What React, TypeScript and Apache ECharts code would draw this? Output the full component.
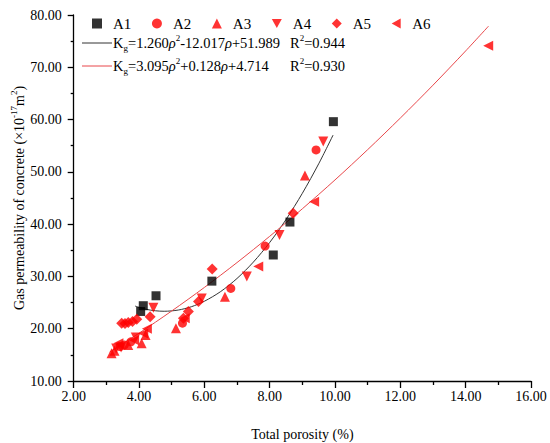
import React, { useEffect, useRef } from "react";
import * as echarts from "echarts";

const SERIES_NAMES = ["A1", "A2", "A3", "A4", "A5", "A6"];

const A1 = [[4.05, 23.3], [4.13, 24.4], [4.52, 26.3], [6.23, 29.1], [8.11, 34.1], [8.62, 40.4], [9.95, 59.6]];
const A2 = [[3.42, 16.6], [3.55, 16.9], [3.75, 17.5], [5.33, 21.05], [6.81, 27.7], [7.86, 35.8], [9.42, 54.2]];
const A3 = [[3.16, 15.3], [3.25, 15.8], [3.67, 16.9], [4.08, 17.2], [4.2, 18.8], [5.13, 20.1], [6.63, 26.1], [9.08, 49.3]];
const A4 = [[3.3, 16.2], [3.45, 16.4], [3.9, 18.3], [4.44, 24.0], [5.92, 25.8], [7.3, 30.0], [8.3, 37.9], [9.64, 55.8]];
const A5 = [[3.47, 21.05], [3.57, 21.0], [3.67, 21.2], [3.8, 21.4], [3.93, 21.8], [4.34, 22.3], [5.36, 22.0], [5.51, 23.3], [5.82, 25.2], [6.24, 31.4], [8.72, 42.1]];
const A6 = [[3.37, 17.2], [3.85, 17.8], [4.13, 19.1], [4.24, 20.0], [5.4, 22.0], [7.65, 31.9], [9.36, 44.3], [14.69, 74.1]];

const FIT_BLACK = [[3.88, 24.33], [4.2, 23.74], [4.5, 23.43], [4.77, 23.34], [5.2, 23.57], [5.6, 24.2], [6, 25.25], [6.5, 27.11], [7, 29.61], [7.5, 32.74], [8, 36.49], [8.5, 40.88], [9, 45.9], [9.5, 51.54], [9.94, 57.03]];
const FIT_RED = [[3.1, 15.54], [4, 19.14], [5, 23.39], [6, 27.89], [7, 32.65], [8, 37.67], [9, 42.94], [10, 48.46], [11, 54.25], [12, 60.29], [13, 66.58], [14, 73.13], [14.7, 77.87]];

const FONT = "Liberation Serif";
const RED = "#ff0000";
const TRI_DOWN = "path://M0,0L10,0L5,9Z";
const TRI_LEFT = "path://M9,0L9,10L0,5Z";

const rich = (size: number) => ({
  n: { fontFamily: FONT, fontSize: size, lineHeight: 19, color: "#000", verticalAlign: "middle" },
  i: { fontFamily: FONT, fontSize: size, fontStyle: "italic", lineHeight: 19, color: "#000", verticalAlign: "middle" },
  p: { fontFamily: FONT, fontSize: 9, lineHeight: 10, color: "#000", verticalAlign: "top" },
  s: { fontFamily: FONT, fontSize: 9, lineHeight: 8, color: "#000", verticalAlign: "bottom" },
});

export default function App() {
  const ref = useRef<HTMLDivElement>(null);
  useEffect(() => {
    if (!ref.current) return;
    const chart = echarts.init(ref.current, null, { renderer: "svg" });
    const scatter = (name: string, data: number[][], symbol: string, size: number, color: string) => ({
      name,
      type: "scatter",
      data,
      symbol,
      symbolSize: size,
      itemStyle: { color },
      z: 3,
    });
    chart.setOption({
      animation: false,
      grid: { left: 73.7, right: 19, top: 15, bottom: 62, containLabel: false, outerBoundsMode: "none" },
      legend: {
        data: SERIES_NAMES,
        left: 87,
        top: 11,
        itemWidth: 10,
        itemHeight: 10,
        itemGap: 20.6,
        textStyle: { fontFamily: FONT, fontSize: 15, color: "#000", padding: [0, 0, 0, 6] },
      },
      xAxis: {
        type: "value",
        min: 2,
        max: 16,
        interval: 2,
        name: "Total porosity (%)",
        nameLocation: "middle",
        nameGap: 46,
        nameMoveOverlap: false,
        nameTextStyle: { fontFamily: FONT, fontSize: 14, color: "#000" },
        axisLine: { show: true, onZero: false, lineStyle: { color: "#000", width: 1.3 } },
        axisTick: { show: true, length: 7, lineStyle: { color: "#000", width: 1.3 } },
        minorTick: { show: true, splitNumber: 2, length: 4, lineStyle: { color: "#000", width: 1.3 } },
        splitLine: { show: false },
        axisLabel: { fontFamily: FONT, fontSize: 14, color: "#000", margin: 8, formatter: (v: number) => v.toFixed(2) },
      },
      yAxis: {
        type: "value",
        min: 10,
        max: 80,
        interval: 10,
        name: "{n|Gas permeability of concrete (×10}{p|-17}{n|m}{p|2}{n|)}",
        nameLocation: "middle",
        nameGap: 45,
        nameMoveOverlap: false,
        nameTextStyle: { fontFamily: FONT, fontSize: 14, color: "#000", rich: rich(14) },
        axisLine: { show: true, onZero: false, lineStyle: { color: "#000", width: 1.3 } },
        axisTick: { show: true, length: 6, lineStyle: { color: "#000", width: 1.3 } },
        minorTick: { show: true, splitNumber: 2, length: 3, lineStyle: { color: "#000", width: 1.3 } },
        splitLine: { show: false },
        axisLabel: { fontFamily: FONT, fontSize: 14, color: "#000", margin: 12, formatter: (v: number) => v.toFixed(2) },
      },
      series: [
        {
          name: "fitBlack",
          type: "line",
          data: FIT_BLACK,
          smooth: 0.3,
          showSymbol: false,
          lineStyle: { color: "#333", width: 1 },
          z: 2,
        },
        {
          name: "fitRed",
          type: "line",
          data: FIT_RED,
          smooth: 0.3,
          showSymbol: false,
          lineStyle: { color: "#e8474a", width: 1 },
          z: 2,
        },
        scatter("A1", A1, "rect", 9, "#000"),
        scatter("A2", A2, "circle", 9, RED),
        scatter("A3", A3, "triangle", 10, RED),
        scatter("A4", A4, TRI_DOWN, 10, RED),
        scatter("A5", A5, "diamond", 11, RED),
        scatter("A6", A6, TRI_LEFT, 10, RED),
      ],
      graphic: [
        { type: "line", shape: { x1: 82, y1: 43, x2: 112, y2: 43 }, style: { stroke: "#333", lineWidth: 1 } },
        {
          type: "text",
          x: 113,
          y: 43,
          style: {
            text: "{n|K}{s|g}{n|=1.260}{i|ρ}{p|2}{n|-12.017}{i|ρ}{n|+51.989}",
            rich: rich(14.5),
            verticalAlign: "middle",
          },
        },
        {
          type: "text",
          x: 290,
          y: 43,
          style: { text: "{n|R}{p|2}{n|=0.944}", rich: rich(14.5), verticalAlign: "middle" },
        },
        { type: "line", shape: { x1: 82, y1: 66, x2: 112, y2: 66 }, style: { stroke: "#e8474a", lineWidth: 1 } },
        {
          type: "text",
          x: 113,
          y: 66,
          style: {
            text: "{n|K}{s|g}{n|=3.095}{i|ρ}{p|2}{n|+0.128}{i|ρ}{n|+4.714}",
            rich: rich(14.5),
            verticalAlign: "middle",
          },
        },
        {
          type: "text",
          x: 290,
          y: 66,
          style: { text: "{n|R}{p|2}{n|=0.930}", rich: rich(14.5), verticalAlign: "middle" },
        },
      ],
    });
    return () => chart.dispose();
  }, []);
  return (
    <div
      ref={ref}
      style={{ position: "fixed", left: 0, top: 0, width: 550, height: 443, background: "#fff" }}
    />
  );
}
